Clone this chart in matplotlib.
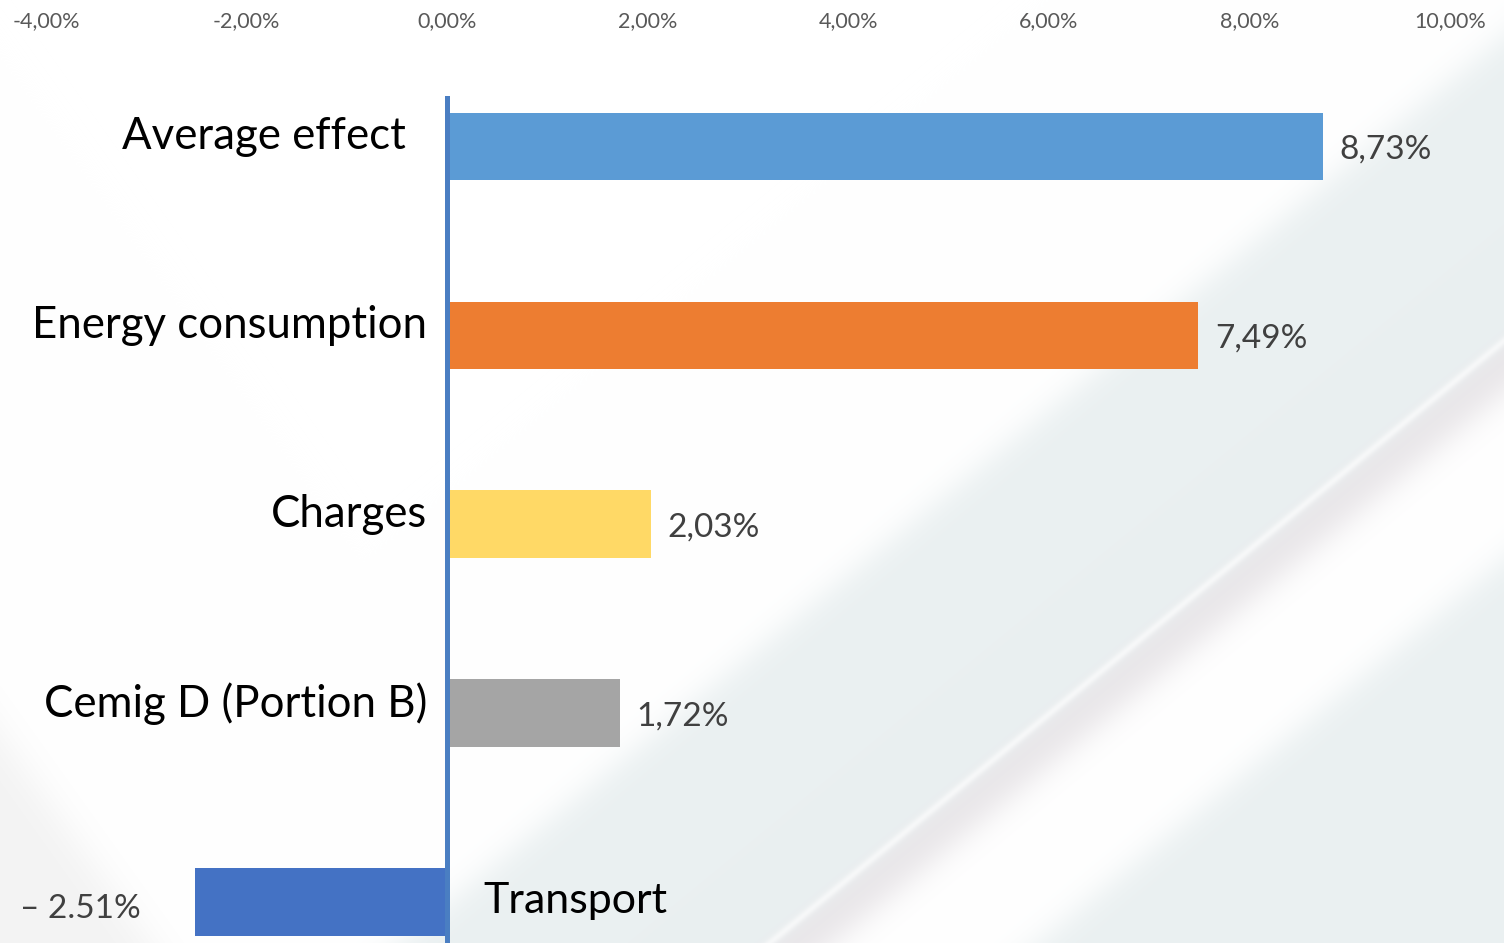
import numpy as np
import matplotlib
matplotlib.use("Agg")
import matplotlib.pyplot as plt

plt.rcParams['font.family'] = ['Lato', 'DejaVu Sans']

# data
categories = ['Average effect', 'Energy consumption', 'Charges', 'Cemig D (Portion B)', 'Transport']
values = [8.73, 7.49, 2.03, 1.72, -2.51]
value_labels = ['8,73%', '7,49%', '2,03%', '1,72%', '\u2013 2.51%']
bar_colors = ['#5B9BD5', '#ED7D31', '#FFD966', '#A5A5A5', '#4472C4']
xticks = [-4, -2, 0, 2, 4, 6, 8, 10]
xtick_labels = ['-4,00%', '-2,00%', '0,00%', '2,00%', '4,00%', '6,00%', '8,00%', '10,00%']

W, H = 1504, 943
fig = plt.figure(figsize=(W / 100, H / 100), dpi=100)
fig.patch.set_facecolor('white')


# background decoration: soft diagonal bands, built as an image in pixel space
def sig(s, edge, w):
    return 1 / (1 + np.exp(-(s - edge) / w))


xx, yy = np.meshgrid(np.arange(W), np.arange(H))
s = yy - 0.82 * (W - xx)          # height of a diagonal line at the right edge
blue = sig(s, 36, 12) * (1 - sig(s, 345, 8)) + sig(s, 559, 12)
gray = sig(s, 345, 8) * (1 - sig(s, 392, 12))
shine = np.exp(-((s - 340) / 5) ** 2)
corner = sig(yy - 733 - 1.4 * xx, 0, 20)

white = np.array([1.0, 1.0, 1.0])
c_blue = np.array([0xea, 0xf0, 0xf1]) / 255
c_gray = np.array([0xe8, 0xe5, 0xe8]) / 255
c_corner = np.array([0xf3, 0xf3, 0xf3]) / 255
img = (white * (1 - blue - gray)[..., None] + c_blue * blue[..., None]
       + c_gray * gray[..., None])
img = img * (1 - 0.6 * shine[..., None]) + white * 0.6 * shine[..., None]
img = img * (1 - corner[..., None]) + c_corner * corner[..., None]

bg = fig.add_axes([0, 0, 1, 1], zorder=0)
bg.imshow(np.clip(img, 0, 1), extent=(0, W, H, 0), aspect='auto', interpolation='bilinear')
bg.set_xlim(0, W)
bg.set_ylim(H, 0)
bg.axis('off')

# main chart
left = 46 / W
right = 1450 / W
top = 96 / H
ax = fig.add_axes([left, 0, right - left, 1 - top], zorder=1)
ax.patch.set_alpha(0)

y = np.arange(len(categories))
ax.barh(y, values, height=0.355, color=bar_colors, zorder=2)
ax.set_xlim(-4, 10)
ax.set_ylim(4.217, -0.265)
ax.axvline(0, color='#4A7EC2', lw=3.6, zorder=3)

ax.xaxis.tick_top()
ax.set_xticks(xticks)
ax.set_xticklabels(xtick_labels)
ax.tick_params(axis='x', length=0, pad=47, labelsize=15.5, labelcolor='#595959')
ax.set_yticks([])
for sp in ax.spines.values():
    sp.set_visible(False)

name_pad = [-41, -20, -20, -20]
for i, (cat, v, lab) in enumerate(zip(categories, values, value_labels)):
    if v >= 0:
        ax.annotate(cat, (0, i), xytext=(name_pad[i] * 0.72, 7), textcoords='offset points',
                    ha='right', va='center', fontsize=31.5, color='black')
        ax.annotate(lab, (v, i), xytext=(12, -2.5), textcoords='offset points',
                    ha='left', va='center', fontsize=24, color='#404040')
    else:
        ax.annotate(cat, (0, i), xytext=(26, 1), textcoords='offset points',
                    ha='left', va='center', fontsize=31, color='black')
        ax.annotate(lab, (-4, i), xytext=(-19, -5), textcoords='offset points',
                    ha='left', va='center', fontsize=24, color='#404040')

fig.savefig('out.png', dpi=100)
